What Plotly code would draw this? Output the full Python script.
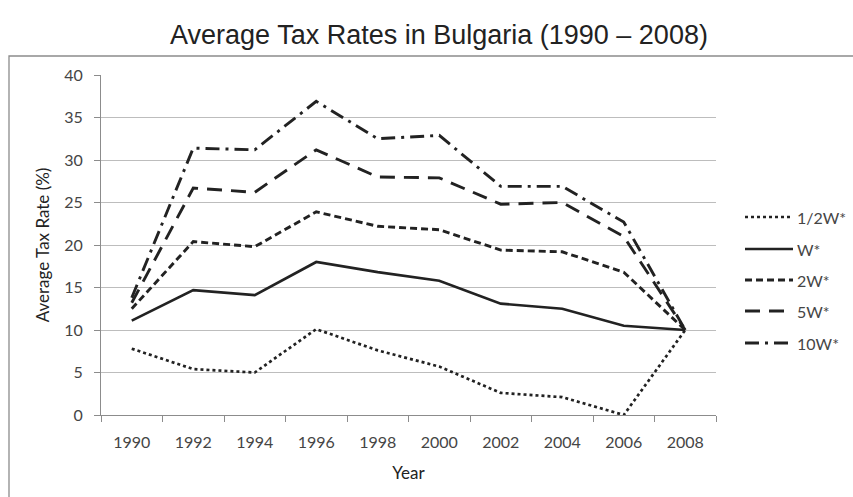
import plotly.graph_objects as go

# Average tax rates by income multiple of the average wage (W*)
years = ["1990", "1992", "1994", "1996", "1998", "2000", "2002", "2004", "2006", "2008"]
half_w = [7.8, 5.4, 5.0, 10.1, 7.6, 5.7, 2.6, 2.1, 0.0, 10.0]
one_w = [11.1, 14.7, 14.1, 18.0, 16.8, 15.8, 13.1, 12.5, 10.5, 10.0]
two_w = [12.5, 20.4, 19.8, 23.9, 22.2, 21.8, 19.4, 19.2, 16.8, 10.0]
five_w = [13.2, 26.7, 26.2, 31.2, 28.0, 27.9, 24.8, 25.0, 21.0, 10.0]
ten_w = [13.8, 31.4, 31.2, 36.9, 32.5, 32.9, 26.9, 26.9, 22.7, 10.0]

series_names = ["1/2W*", "W*", "2W*", "5W*", "10W*"]
series_values = [half_w, one_w, two_w, five_w, ten_w]
dash_styles = ["dot", "solid", "7px,4px", "15px,9px", "14px,6px,3px,6px"]
line_widths = [2.7, 2.7, 2.9, 2.9, 2.9]

ink = "#222222"
label_color = "#454545"
frame_color = "#8c8c8c"
body_font = "Lato, Liberation Sans, sans-serif"
tick_font = dict(family=body_font, size=16, color=label_color)

# plot area in pixels (for placing the hand-drawn legend and frame)
W, H = 853, 497
L, R, T, B = 101, 716, 75, 415
pw, ph = R - L, B - T


def px_x(x):
    return (x - L) / pw


def px_y(y):
    return (B - y) / ph


fig = go.Figure()
for name, vals, dash, w in zip(series_names, series_values, dash_styles, line_widths):
    fig.add_trace(go.Scatter(
        x=years, y=vals, name=name, mode="lines", showlegend=False,
        line=dict(color=ink, width=w, dash=dash),
    ))

# legend: line samples with labels on the right
legend_rows = [217, 249, 280, 311, 343]
for name, dash, w, yy in zip(series_names, dash_styles, line_widths, legend_rows):
    fig.add_shape(type="line", xref="paper", yref="paper",
                  x0=px_x(745), x1=px_x(793), y0=px_y(yy), y1=px_y(yy),
                  line=dict(color=ink, width=w, dash=dash))
    fig.add_annotation(text=name, xref="paper", yref="paper",
                       x=px_x(795), y=px_y(yy), xanchor="left", yanchor="middle",
                       showarrow=False, font=dict(family=body_font, size=16, color=label_color))

# outer chart frame
fig.add_shape(type="rect", xref="paper", yref="paper",
              x0=px_x(9), x1=px_x(870), y0=px_y(520), y1=px_y(56),
              line=dict(color=frame_color, width=1.3), fillcolor="rgba(0,0,0,0)", layer="below")

fig.update_layout(
    width=W, height=H,
    margin=dict(l=L, r=W - R, t=T, b=H - B),
    paper_bgcolor="white", plot_bgcolor="white",
    title=dict(text="Average Tax Rates in Bulgaria (1990 – 2008)",
               x=439 / W, xanchor="center", y=1 - 35 / H, yanchor="middle",
               font=dict(family="Liberation Sans, Arial, sans-serif", size=27, color=ink)),
    showlegend=False,
    xaxis=dict(type="category", range=[-0.5, 9.5], tickson="boundaries", ticks="outside", ticklen=6,
               tickcolor=frame_color, showline=True, linecolor=frame_color, linewidth=1,
               showgrid=False, tickfont=tick_font, fixedrange=True, ticklabelstandoff=13,
               title=dict(text="Year", font=dict(family=body_font, size=17, color=ink),
                          standoff=16)),
    yaxis=dict(range=[0, 40], dtick=5, ticks="outside", ticklen=6, tickcolor=frame_color,
               showline=True, linecolor=frame_color, linewidth=1,
               showgrid=True, gridcolor="#bdbdbd", gridwidth=1, zeroline=False,
               tickfont=tick_font, fixedrange=True, ticklabelstandoff=8,
               title=dict(text="Average Tax Rate (%)",
                          font=dict(family=body_font, size=17, color=ink),
                          standoff=10)),
)

fig.write_html("out.html")
